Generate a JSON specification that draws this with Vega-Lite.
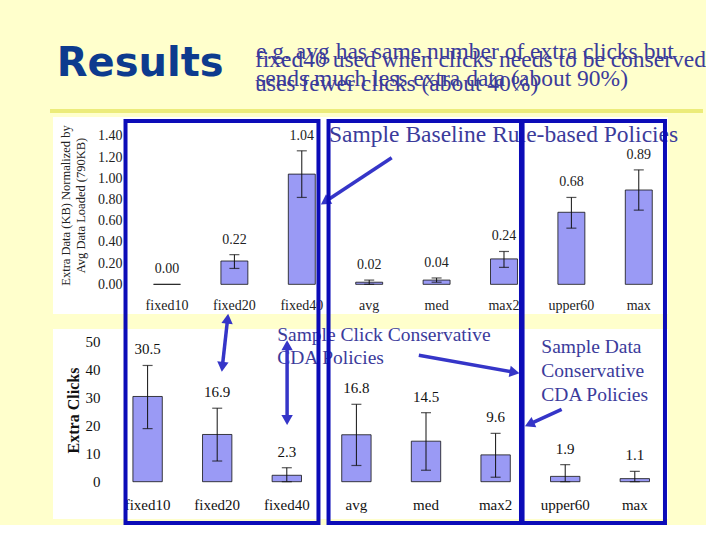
{
  "$schema": "https://vega.github.io/schema/vega-lite/v6.json",
  "background": "#FFFFCC",
  "padding": {"left": 48, "top": 39, "right": 0, "bottom": 0},
  "bounds": "flush",
  "spacing": 15,
  "config": {"view": {"stroke": null, "fill": "white"}, "font": "Liberation Serif", "axis": {"labelOverlap": false}},
  "datasets": {
    "policies": [
      {"policy": "fixed10", "data": 0.0, "dataLo": 0.0, "dataHi": 0.0, "clicks": 30.5, "clicksLo": 19.0, "clicksHi": 41.6},
      {"policy": "fixed20", "data": 0.22, "dataLo": 0.15, "dataHi": 0.28, "clicks": 16.9, "clicksLo": 7.4, "clicksHi": 26.3},
      {"policy": "fixed40", "data": 1.04, "dataLo": 0.82, "dataHi": 1.26, "clicks": 2.3, "clicksLo": 0.0, "clicksHi": 5.0},
      {"policy": "avg", "data": 0.02, "dataLo": 0.0, "dataHi": 0.04, "clicks": 16.8, "clicksLo": 5.8, "clicksHi": 27.7},
      {"policy": "med", "data": 0.04, "dataLo": 0.02, "dataHi": 0.06, "clicks": 14.5, "clicksLo": 4.1, "clicksHi": 24.7},
      {"policy": "max2", "data": 0.24, "dataLo": 0.16, "dataHi": 0.31, "clicks": 9.6, "clicksLo": 1.6, "clicksHi": 17.3},
      {"policy": "upper60", "data": 0.68, "dataLo": 0.53, "dataHi": 0.82, "clicks": 1.9, "clicksLo": 0.0, "clicksHi": 6.1},
      {"policy": "max", "data": 0.89, "dataLo": 0.7, "dataHi": 1.08, "clicks": 1.1, "clicksLo": 0.0, "clicksHi": 3.7}
    ],
    "one": [{}]
  },
  "vconcat": [
    {
      "width": 615,
      "height": 197,
      "layer": [
        {
          "data": {"name": "policies"},
          "mark": {"type": "bar", "fill": "#9a9af5", "stroke": "#111111", "strokeWidth": 0.8},
          "encoding": {
            "x": {
              "field": "policy", "type": "nominal", "sort": null,
              "scale": {"domain": ["fixed10", "fixed20", "fixed40", "avg", "med", "max2", "upper60", "max"], "paddingInner": 0.6, "paddingOuter": 0.8625, "align": 0.8646},
              "axis": {"title": null, "orient": "bottom", "offset": -16, "labelPadding": 0, "ticks": false, "tickSize": 0, "domain": false, "labelAngle": 0, "labelFontSize": 14, "labelColor": "#222222", "labelBaseline": "top", "labelFont": "Liberation Serif", "labelOverlap": false}
            },
            "y": {
              "field": "data", "type": "quantitative",
              "scale": {"domain": [-0.28, 1.579], "nice": false, "zero": false},
              "axis": {
                "title": ["Extra Data (KB) Normalized by", "Avg Data Loaded (790KB)"],
                "titleFontSize": 12.5, "titleFontWeight": "normal", "titleFont": "Liberation Serif", "titleColor": "#222222", "titleLineHeight": 15, "titlePadding": 10, "titleY": 88,
                "values": [0, 0.2, 0.4, 0.6, 0.8, 1.0, 1.2, 1.4], "tickCount": 40, "format": ".2f",
                "offset": -69, "ticks": false, "tickSize": 0, "domain": false, "grid": false, "labelPadding": 0, "labelOverlap": false,
                "labelFontSize": 14, "labelColor": "#222222", "labelFont": "Liberation Serif"
              }
            }
          }
        },
        {
          "data": {"name": "policies"},
          "transform": [{"filter": "datum.dataHi > datum.dataLo"}],
          "mark": {"type": "rule", "color": "#111111", "strokeWidth": 1},
          "encoding": {
            "x": {"field": "policy", "type": "nominal"},
            "y": {"field": "dataLo", "type": "quantitative"},
            "y2": {"field": "dataHi"}
          }
        },
        {
          "data": {"name": "policies"},
          "transform": [{"filter": "datum.dataHi > datum.dataLo"}],
          "mark": {"type": "tick", "color": "#111111", "size": 10, "thickness": 1.2},
          "encoding": {
            "x": {"field": "policy", "type": "nominal"},
            "y": {"field": "dataHi", "type": "quantitative"}
          }
        },
        {
          "data": {"name": "policies"},
          "transform": [{"filter": "datum.dataHi > datum.dataLo"}],
          "mark": {"type": "tick", "color": "#111111", "size": 10, "thickness": 1.2},
          "encoding": {
            "x": {"field": "policy", "type": "nominal"},
            "y": {"field": "dataLo", "type": "quantitative"}
          }
        },
        {
          "data": {"name": "policies"},
          "mark": {"type": "text", "baseline": "bottom", "dy": -8, "fontSize": 14, "color": "#222222", "font": "Liberation Serif"},
          "encoding": {
            "x": {"field": "policy", "type": "nominal"},
            "y": {"field": "dataHi", "type": "quantitative"},
            "text": {"field": "data", "type": "quantitative", "format": ".2f"}
          }
        },
        {
          "data": {"name": "one"},
          "mark": {"type": "rule", "color": "#ecec7a", "strokeWidth": 4, "clip": false},
          "encoding": {
            "x": {"datum": "fixed10", "bandPosition": -3.839},
            "x2": {"datum": "max", "bandPosition": 2.882},
            "y": {"datum": 1.636}
          }
        },
        {
          "data": {"name": "one"},
          "mark": {"type": "text", "text": "Results", "font": "DejaVu Sans", "fontWeight": "bold", "fontSize": 40, "color": "#0d3b8e", "align": "left", "baseline": "alphabetic", "clip": false},
          "encoding": {
            "x": {"datum": "fixed10", "bandPosition": -3.59},
            "y": {"datum": 1.966}
          }
        },
        {
          "data": {"name": "one"},
          "mark": {"type": "text", "text": ["e.g. avg has same number of extra clicks but", "sends much less extra data (about 90%)"], "lineHeight": 27, "font": "Liberation Serif", "fontSize": 23.5, "color": "#3b3b9b", "align": "left", "baseline": "alphabetic", "clip": false},
          "encoding": {
            "x": {"datum": "fixed20", "bandPosition": 1.302},
            "y": {"datum": 2.127}
          }
        },
        {
          "data": {"name": "one"},
          "mark": {"type": "text", "text": ["fixed40 used when clicks needs to be conserved", "uses fewer clicks (about 40%)"], "lineHeight": 24, "font": "Liberation Serif", "fontSize": 23.5, "color": "#3b3b9b", "align": "left", "baseline": "alphabetic", "clip": false},
          "encoding": {
            "x": {"datum": "fixed20", "bandPosition": 1.265},
            "y": {"datum": 2.051}
          }
        },
        {
          "data": {"name": "one"},
          "mark": {"type": "text", "text": "Sample Baseline Rule-based Policies", "font": "Liberation Serif", "fontSize": 23.5, "color": "#3b3b9b", "align": "left", "baseline": "alphabetic", "clip": false},
          "encoding": {
            "x": {"datum": "avg", "bandPosition": -0.99},
            "y": {"datum": 1.346}
          }
        },
        {
          "data": {"name": "one"},
          "mark": {"type": "rule", "color": "#3535c8", "strokeWidth": 3.5, "clip": false},
          "encoding": {
            "x": {"datum": "avg", "bandPosition": 1.335},
            "y": {"datum": 1.195},
            "x2": {"datum": "fixed40", "bandPosition": 1.361},
            "y2": {"datum": 0.78}
          }
        },
        {
          "data": {"name": "one"},
          "mark": {"type": "point", "shape": "triangle-right", "filled": true, "color": "#3535c8", "opacity": 1, "size": 130, "angle": 146.6, "clip": false},
          "encoding": {
            "x": {"datum": "fixed40", "bandPosition": 1.361},
            "y": {"datum": 0.78}
          }
        }
      ]
    },
    {
      "width": 615,
      "height": 190,
      "layer": [
        {
          "data": {"name": "policies"},
          "mark": {"type": "bar", "fill": "#9a9af5", "stroke": "#111111", "strokeWidth": 0.8},
          "encoding": {
            "x": {
              "field": "policy", "type": "nominal", "sort": null,
              "scale": {"domain": ["fixed10", "fixed20", "fixed40", "avg", "med", "max2", "upper60", "max"], "paddingInner": 0.578, "paddingOuter": 0.707, "align": 0.812},
              "axis": {"title": null, "orient": "bottom", "offset": -22, "labelPadding": 0, "ticks": false, "tickSize": 0, "domain": false, "labelAngle": 0, "labelFontSize": 15, "labelColor": "#111111", "labelBaseline": "top", "labelFont": "Liberation Serif", "labelOverlap": false}
            },
            "y": {
              "field": "clicks", "type": "quantitative",
              "scale": {"domain": [-13.35, 54.65], "nice": false, "zero": false},
              "axis": {
                "title": "Extra Clicks",
                "titleFontSize": 16, "titleFontWeight": "bold", "titleFont": "Liberation Serif", "titleColor": "#111111", "titlePadding": 4, "titleY": 81,
                "values": [0, 10, 20, 30, 40, 50], "tickCount": 40,
                "offset": -47, "ticks": false, "tickSize": 0, "domain": false, "grid": false, "labelPadding": 0, "labelOverlap": false,
                "labelFontSize": 15, "labelColor": "#111111", "labelFont": "Liberation Serif"
              }
            }
          }
        },
        {
          "data": {"name": "policies"},
          "mark": {"type": "rule", "color": "#111111", "strokeWidth": 1},
          "encoding": {
            "x": {"field": "policy", "type": "nominal"},
            "y": {"field": "clicksLo", "type": "quantitative"},
            "y2": {"field": "clicksHi"}
          }
        },
        {
          "data": {"name": "policies"},
          "mark": {"type": "tick", "color": "#111111", "size": 10, "thickness": 1.2},
          "encoding": {
            "x": {"field": "policy", "type": "nominal"},
            "y": {"field": "clicksHi", "type": "quantitative"}
          }
        },
        {
          "data": {"name": "policies"},
          "mark": {"type": "tick", "color": "#111111", "size": 10, "thickness": 1.2},
          "encoding": {
            "x": {"field": "policy", "type": "nominal"},
            "y": {"field": "clicksLo", "type": "quantitative"}
          }
        },
        {
          "data": {"name": "policies"},
          "mark": {"type": "text", "baseline": "bottom", "dy": -8, "fontSize": 15, "color": "#111111", "font": "Liberation Serif"},
          "encoding": {
            "x": {"field": "policy", "type": "nominal"},
            "y": {"field": "clicksHi", "type": "quantitative"},
            "text": {"field": "clicks", "type": "quantitative", "format": ".1f"}
          }
        },
        {
          "data": {"name": "one"},
          "mark": {"type": "text", "text": ["Sample Click Conservative", "CDA Policies"], "lineHeight": 23, "font": "Liberation Serif", "fontSize": 19.5, "color": "#3b3b9b", "align": "left", "baseline": "alphabetic", "clip": false},
          "encoding": {
            "x": {"datum": "fixed40", "bandPosition": 0.173},
            "y": {"datum": 50.36}
          }
        },
        {
          "data": {"name": "one"},
          "mark": {"type": "text", "text": ["Sample Data", "Conservative", "CDA Policies"], "lineHeight": 24, "font": "Liberation Serif", "fontSize": 19.5, "color": "#3b3b9b", "align": "left", "baseline": "alphabetic", "clip": false},
          "encoding": {
            "x": {"datum": "upper60", "bandPosition": -0.313},
            "y": {"datum": 45.96}
          }
        },
        {
          "data": {"name": "one"},
          "mark": {"type": "rect", "fill": null, "fillOpacity": 0, "stroke": "#0c0cb8", "strokeWidth": 4, "clip": false},
          "encoding": {
            "x": {"datum": "fixed10", "bandPosition": -0.252},
            "x2": {"datum": "fixed40", "bandPosition": 1.578},
            "y": {"datum": 129.1},
            "y2": {"datum": -14.78}
          }
        },
        {
          "data": {"name": "one"},
          "mark": {"type": "rect", "fill": null, "fillOpacity": 0, "stroke": "#0c0cb8", "strokeWidth": 4, "clip": false},
          "encoding": {
            "x": {"datum": "avg", "bandPosition": -0.449},
            "x2": {"datum": "max2", "bandPosition": 1.364},
            "y": {"datum": 129.1},
            "y2": {"datum": -14.78}
          }
        },
        {
          "data": {"name": "one"},
          "mark": {"type": "rect", "fill": null, "fillOpacity": 0, "stroke": "#0c0cb8", "strokeWidth": 4, "clip": false},
          "encoding": {
            "x": {"datum": "upper60", "bandPosition": -0.952},
            "x2": {"datum": "max", "bandPosition": 1.527},
            "y": {"datum": 129.1},
            "y2": {"datum": -14.78}
          }
        },
        {
          "data": {"name": "one"},
          "mark": {"type": "rule", "color": "#3535c8", "strokeWidth": 3.5, "clip": false},
          "encoding": {
            "x": {"datum": "fixed20", "bandPosition": 0.855},
            "y": {"datum": 58.35},
            "x2": {"datum": "fixed20", "bandPosition": 0.675},
            "y2": {"datum": 41.15}
          }
        },
        {
          "data": {"name": "one"},
          "mark": {"type": "point", "shape": "triangle-right", "filled": true, "color": "#3535c8", "opacity": 1, "size": 130, "angle": 276.3, "clip": false},
          "encoding": {"x": {"datum": "fixed20", "bandPosition": 0.855}, "y": {"datum": 58.35}}
        },
        {
          "data": {"name": "one"},
          "mark": {"type": "point", "shape": "triangle-right", "filled": true, "color": "#3535c8", "opacity": 1, "size": 130, "angle": 96.3, "clip": false},
          "encoding": {"x": {"datum": "fixed20", "bandPosition": 0.675}, "y": {"datum": 41.15}}
        },
        {
          "data": {"name": "one"},
          "mark": {"type": "rule", "color": "#3535c8", "strokeWidth": 3.5, "clip": false},
          "encoding": {
            "x": {"datum": "fixed40", "bandPosition": 0.51},
            "y": {"datum": 48.82},
            "x2": {"datum": "fixed40", "bandPosition": 0.51},
            "y2": {"datum": 22.08}
          }
        },
        {
          "data": {"name": "one"},
          "mark": {"type": "point", "shape": "triangle-right", "filled": true, "color": "#3535c8", "opacity": 1, "size": 130, "angle": 270, "clip": false},
          "encoding": {"x": {"datum": "fixed40", "bandPosition": 0.51}, "y": {"datum": 48.82}}
        },
        {
          "data": {"name": "one"},
          "mark": {"type": "point", "shape": "triangle-right", "filled": true, "color": "#3535c8", "opacity": 1, "size": 130, "angle": 90, "clip": false},
          "encoding": {"x": {"datum": "fixed40", "bandPosition": 0.51}, "y": {"datum": 22.08}}
        },
        {
          "data": {"name": "one"},
          "mark": {"type": "rule", "color": "#3535c8", "strokeWidth": 3.5, "clip": false},
          "encoding": {
            "x": {"datum": "med", "bandPosition": 0.255},
            "y": {"datum": 45.24},
            "x2": {"datum": "max2", "bandPosition": 1.146},
            "y2": {"datum": 39.16}
          }
        },
        {
          "data": {"name": "one"},
          "mark": {"type": "point", "shape": "triangle-right", "filled": true, "color": "#3535c8", "opacity": 1, "size": 130, "angle": 10, "clip": false},
          "encoding": {"x": {"datum": "max2", "bandPosition": 1.146}, "y": {"datum": 39.16}}
        },
        {
          "data": {"name": "one"},
          "mark": {"type": "rule", "color": "#3535c8", "strokeWidth": 3.5, "clip": false},
          "encoding": {
            "x": {"datum": "upper60", "bandPosition": 0.378},
            "y": {"datum": 25.91},
            "x2": {"datum": "upper60", "bandPosition": -0.718},
            "y2": {"datum": 20.58}
          }
        },
        {
          "data": {"name": "one"},
          "mark": {"type": "point", "shape": "triangle-right", "filled": true, "color": "#3535c8", "opacity": 1, "size": 130, "angle": 155.2, "clip": false},
          "encoding": {"x": {"datum": "upper60", "bandPosition": -0.718}, "y": {"datum": 20.58}}
        }
      ]
    }
  ]
}
